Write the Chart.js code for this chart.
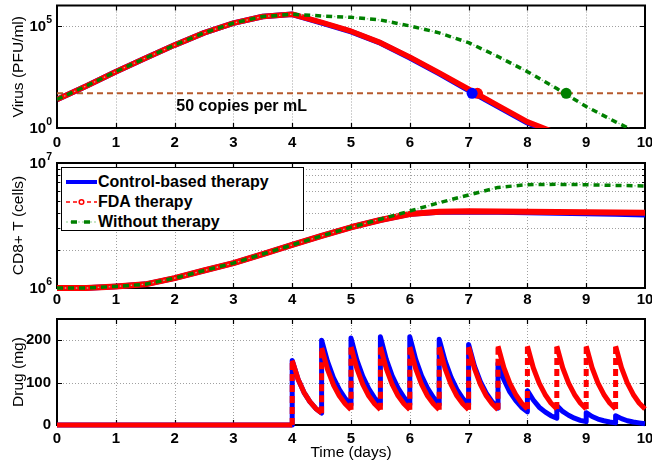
<!DOCTYPE html>
<html>
<head>
<meta charset="utf-8">
<script src="https://cdn.jsdelivr.net/npm/chart.js@4.4.1/dist/chart.umd.min.js"></script>
<style>
html,body{margin:0;padding:0;background:#fff;width:652px;height:465px;overflow:hidden;}
.panel{position:absolute;left:0;width:652px;}
#legend{position:absolute;left:61px;top:167px;width:241px;height:62px;border:1px solid #000;background:#fff;
  font:bold 16px 'Liberation Sans',Arial,Helvetica,sans-serif;color:#000;z-index:5;}
#legend .row{position:absolute;left:0;height:20px;width:240px;}
#legend svg{position:absolute;left:4px;top:0;}
#legend span{position:absolute;left:36px;top:1px;line-height:18px;white-space:nowrap;}
</style>
</head>
<body>
<div class="panel" style="top:0;height:150px"><canvas id="cVirus" width="652" height="150"></canvas></div>
<div class="panel" style="top:150px;height:160px"><canvas id="cCd8" width="652" height="160"></canvas></div>
<div class="panel" style="top:310px;height:155px"><canvas id="cDrug" width="652" height="155"></canvas></div>
<div id="legend">
  <div class="row" style="top:4px">
    <svg width="31" height="20"><line x1="0" y1="10" x2="31" y2="10" stroke="#0000ff" stroke-width="4"/></svg>
    <span>Control-based therapy</span>
  </div>
  <div class="row" style="top:24px">
    <svg width="31" height="20"><line x1="0" y1="10" x2="31" y2="10" stroke="#ff0000" stroke-width="1.5" stroke-dasharray="4,3"/><circle cx="15.5" cy="10" r="2.3" fill="#fff" stroke="#ff0000" stroke-width="1.5"/></svg>
    <span>FDA therapy</span>
  </div>
  <div class="row" style="top:44px">
    <svg width="31" height="20"><line x1="0" y1="10" x2="31" y2="10" stroke="#8fd08f" stroke-width="1.2" stroke-dasharray="2,2"/><line x1="0" y1="10" x2="31" y2="10" stroke="#008000" stroke-width="3.5" stroke-dasharray="0,5,6,2"/></svg>
    <span>Without therapy</span>
  </div>
</div>
<script>
// ---------------- data ----------------
const dayTicks = [0,1,2,3,4,5,6,7,8,9,10];
const dayGrid  = [1,2,3,4,5,6,7,8,9];

// Virus (PFU/ml), log scale
const virusTime      = [0,0.5,1,1.5,2,2.5,3,3.5,4,4.5,5,5.5,6,6.5,7,7.5,8,8.5,9,9.5,10];
const controlVirus   = [25,115,575,2630,11500,45700,138000,288000,372000,141000,52500,14500,2750,457,69,11.2,1.8,0.5,null,null,null];
const fdaVirus       = [25,115,575,2630,11500,45700,138000,288000,372000,148000,55000,15100,2950,500,79,12.6,2.0,0.55,null,null,null];
const noTherapyVirus = [25,115,575,2630,11500,45700,138000,288000,372000,309000,263000,195000,100000,45700,15100,3160,575,85,11.2,2.0,0.4];
const thresholdValue = 50;
const thresholdLabel = '50 copies per mL';
const crossTimes = {control: 7.06, fda: 7.15, none: 8.66};
const virusTicks = [1, 1e5];
const virusTickExp = ['0', '5'];

// CD8+ T cells, log scale
const cd8Time      = [0,0.5,1,1.5,2,2.5,3,3.5,4,4.5,5,5.5,6,6.5,7,7.5,8,8.5,9,9.5,10];
const controlCd8   = [1.0e6,1.0e6,1.03e6,1.07e6,1.2e6,1.38e6,1.58e6,1.87e6,2.21e6,2.61e6,3.06e6,3.5e6,3.9e6,4.05e6,4.08e6,4.05e6,4.02e6,3.98e6,3.94e6,3.9e6,3.86e6];
const fdaCd8       = [1.0e6,1.0e6,1.03e6,1.07e6,1.2e6,1.38e6,1.58e6,1.87e6,2.21e6,2.61e6,3.06e6,3.5e6,3.91e6,4.07e6,4.11e6,4.1e6,4.08e6,4.06e6,4.04e6,4.02e6,4.0e6];
const noTherapyCd8 = [1.0e6,1.0e6,1.03e6,1.07e6,1.2e6,1.38e6,1.58e6,1.87e6,2.21e6,2.61e6,3.06e6,3.55e6,4.13e6,4.81e6,5.55e6,6.38e6,6.71e6,6.75e6,6.7e6,6.62e6,6.55e6];
const cd8Ticks = [1e6, 1e7];
const cd8TickExp = ['6', '7'];
const cd8Minor = [2e6,3e6,4e6,5e6,6e6,7e6,8e6,9e6];

// Drug (mg)
const drugTime = [0,4,
 4,4.1,4.2,4.3,4.4,4.5,
 4.5,4.6,4.7,4.8,4.9,5,
 5,5.1,5.2,5.3,5.4,5.5,
 5.5,5.6,5.7,5.8,5.9,6,
 6,6.1,6.2,6.3,6.4,6.5,
 6.5,6.6,6.7,6.8,6.9,7,
 7,7.1,7.2,7.3,7.4,7.5,
 7.5,7.6,7.7,7.8,7.9,8,
 8,8.1,8.2,8.3,8.4,8.5,
 8.5,8.6,8.7,8.8,8.9,9,
 9,9.1,9.2,9.3,9.4,9.5,
 9.5,9.6,9.7,9.8,9.9,10];
const fdaDrug = [0,0,
 152,108,77,55,39,28,
 182,131,95,69,50,36,
 184,133,96,69,50,36,
 184,133,96,69,50,36,
 184,133,96,69,50,36,
 184,133,96,69,50,36,
 184,133,96,69,50,36,
 186,135,99,72,52,38,
 186,135,99,72,52,38,
 186,135,99,72,52,38,
 186,135,99,72,52,38,
 186,135,99,72,52,38];
const controlDrug = [0,0,
 152,108,77,55,39,28,
 200,150,112,84,63,47,
 205,153,115,86,64,48,
 208,155,116,87,65,48,
 208,155,116,87,65,48,
 202,151,113,84,63,47,
 190,139,102,75,55,40,
 145,107,78,58,42,31,
 81,59,42,31,22,16,
 46,32,23,16,11,8,
 29,20,14,10,7,5,
 22,15,10,7,5,3];
const drugTicks = [0, 100, 200];

// ---------------- styling ----------------
const FONT = "'Liberation Sans', Arial, Helvetica, sans-serif";
Chart.defaults.font.family = FONT;
Chart.defaults.color = '#000';
const BLUE = '#0000ff', RED = '#ff0000', GREEN = '#008000', LIGHTGREEN = '#8fd08f', BROWN = '#b65a2c';

function pts(xs, ys) { return xs.map((x, i) => ({x, y: ys[i]})); }

const framePlugin = {
  id: 'frame',
  beforeDatasetsDraw(chart, args, o) {
    const {ctx, chartArea: a} = chart;
    const xs = chart.scales.x, ys = chart.scales.y;
    ctx.save();
    // dotted grid
    ctx.strokeStyle = '#a0a0a0';
    ctx.lineWidth = 1;
    ctx.setLineDash([1, 2]);
    ctx.beginPath();
    (o.xGrid || []).forEach(v => { const p = Math.round(xs.getPixelForValue(v)) + 0.5; ctx.moveTo(p, a.top); ctx.lineTo(p, a.bottom); });
    (o.yGrid || []).forEach(v => { const p = Math.round(ys.getPixelForValue(v)) + 0.5; ctx.moveTo(a.left, p); ctx.lineTo(a.right, p); });
    ctx.stroke();
    ctx.setLineDash([]);
    // inward tick marks
    ctx.strokeStyle = '#000';
    ctx.lineWidth = 1.2;
    ctx.beginPath();
    (o.xTicks || []).forEach(v => { const p = Math.round(xs.getPixelForValue(v)) + 0.5;
      ctx.moveTo(p, a.bottom); ctx.lineTo(p, a.bottom - 5); ctx.moveTo(p, a.top); ctx.lineTo(p, a.top + 5); });
    (o.yTicks || []).forEach(v => { const p = Math.round(ys.getPixelForValue(v)) + 0.5;
      ctx.moveTo(a.left, p); ctx.lineTo(a.left + 5, p); ctx.moveTo(a.right, p); ctx.lineTo(a.right - 5, p); });
    (o.yMinor || []).forEach(v => { const p = Math.round(ys.getPixelForValue(v)) + 0.5;
      ctx.moveTo(a.left, p); ctx.lineTo(a.left + 3, p); ctx.moveTo(a.right, p); ctx.lineTo(a.right - 3, p); });
    ctx.stroke();
    // frame
    ctx.lineWidth = 2;
    ctx.strokeRect(a.left, a.top, a.right - a.left, a.bottom - a.top);
    // power-of-ten labels
    if (o.expValues) {
      ctx.fillStyle = '#000';
      ctx.textAlign = 'left';
      ctx.textBaseline = 'alphabetic';
      o.expValues.forEach((v, i) => {
        const py = ys.getPixelForValue(v);
        const e = o.expTexts[i];
        ctx.font = 'bold 10.5px ' + FONT;
        const we = ctx.measureText(e).width;
        ctx.font = 'bold 15px ' + FONT;
        const wb = ctx.measureText('10').width;
        const xr = a.left - 5;
        ctx.fillText('10', xr - we - wb, py + 5.4);
        ctx.font = 'bold 10.5px ' + FONT;
        ctx.fillText(e, xr - we, py - 3.4);
      });
    }
    // annotation text
    if (o.note) {
      ctx.font = 'bold 16px ' + FONT;
      ctx.textAlign = 'center';
      ctx.textBaseline = 'alphabetic';
      ctx.fillText(o.note.text, xs.getPixelForValue(o.note.x), ys.getPixelForValue(o.note.y) + o.note.dy);
    }
    ctx.restore();
  }
};
Chart.register(framePlugin);

function options({padTop, xHeight, xPad, yScale, yTitle, xTitle, frame}) {
  return {
    responsive: false, animation: false, events: [],
    layout: {padding: {top: padTop, right: 7, left: 0, bottom: 0}},
    plugins: {legend: {display: false}, tooltip: {enabled: false}, frame},
    scales: {
      x: {
        type: 'linear', min: 0, max: 10,
        ticks: {stepSize: 1, font: {weight: 'bold', size: 15}, padding: xPad, color: '#000', autoSkip: false, maxRotation: 0},
        grid: {display: false, drawTicks: false}, border: {display: false},
        title: xTitle ? {display: true, text: xTitle, font: {size: 15.5}, padding: {top: 0, bottom: 2.5}, color: '#000'} : {display: false},
        afterFit: s => { s.height = xHeight; s.paddingLeft = 0; s.paddingRight = 0; }
      },
      y: Object.assign({
        grid: {display: false, drawTicks: false}, border: {display: false},
        title: {display: true, text: yTitle, font: {size: 15.5}, padding: {top: 9.5, bottom: 0}, color: '#000'},
        afterFit: s => { s.width = 57; s.paddingTop = 0; s.paddingBottom = 0; }
      }, yScale)
    }
  };
}

function lineDs(data, color, width, order, extra) {
  return Object.assign({data, borderColor: color, backgroundColor: color, borderWidth: width, pointRadius: 0,
    fill: false, tension: 0, order, borderJoinStyle: 'round', spanGaps: false}, extra || {});
}
function dotDs(x, y, color, order) {
  return {type: 'scatter', data: [{x, y}], pointRadius: 5.5, pointBackgroundColor: color, pointBorderColor: color,
    pointBorderWidth: 0, showLine: false, order};
}

// ---------------- Virus chart ----------------
new Chart(document.getElementById('cVirus'), {
  type: 'line',
  data: {datasets: [
    dotDs(crossTimes.control, thresholdValue, BLUE, 0),
    dotDs(crossTimes.fda, thresholdValue, RED, 1),
    dotDs(crossTimes.none, thresholdValue, GREEN, 1),
    lineDs(pts(virusTime, noTherapyVirus), GREEN, 3.5, 2, {borderDash: [6, 5]}),
    lineDs(pts(virusTime, noTherapyVirus), LIGHTGREEN, 1.3, 3, {borderDash: [1.5, 9.5], borderDashOffset: 3.25}),
    lineDs(pts(virusTime, fdaVirus), RED, 5.5, 4),
    lineDs(pts(virusTime, controlVirus), BLUE, 5.5, 5),
    lineDs(pts([0, 10], [thresholdValue, thresholdValue]), BROWN, 2, 6, {borderDash: [6, 4]})
  ]},
  options: options({
    padTop: 2, xHeight: 22, xPad: 6, yTitle: 'Virus (PFU/ml)',
    yScale: {type: 'logarithmic', min: 1, max: 1e6, ticks: {display: false}},
    frame: {xGrid: dayGrid, yGrid: [1e5], xTicks: dayGrid, yTicks: [1e5],
      expValues: virusTicks, expTexts: virusTickExp,
      note: {text: thresholdLabel, x: 3.14, y: thresholdValue, dy: 17.3}}
  })
});

// ---------------- CD8 chart ----------------
new Chart(document.getElementById('cCd8'), {
  type: 'line',
  data: {datasets: [
    lineDs(pts(cd8Time, noTherapyCd8), GREEN, 3.5, 2, {borderDash: [6, 5], clip: 4}),
    lineDs(pts(cd8Time, noTherapyCd8), LIGHTGREEN, 1.3, 3, {borderDash: [1.5, 9.5], borderDashOffset: 3.25, clip: 4}),
    lineDs(pts(cd8Time, fdaCd8), RED, 6, 4, {clip: 4}),
    lineDs(pts(cd8Time, controlCd8), BLUE, 5.5, 5, {clip: 4})
  ]},
  options: options({
    padTop: 13, xHeight: 22, xPad: 3, yTitle: 'CD8+ T (cells)',
    yScale: {type: 'logarithmic', min: 1e6, max: 1e7, ticks: {display: false}},
    frame: {xGrid: dayGrid, yGrid: cd8Minor, xTicks: dayGrid, yTicks: [], yMinor: cd8Minor,
      expValues: cd8Ticks, expTexts: cd8TickExp}
  })
});

// ---------------- Drug chart ----------------
const jumpDash = c => (c.p0.parsed.x === c.p1.parsed.x ? [7, 4] : []);
new Chart(document.getElementById('cDrug'), {
  type: 'line',
  data: {datasets: [
    lineDs(pts(drugTime, fdaDrug), RED, 5, 1, {clip: 5, segment: {borderDash: jumpDash}}),
    lineDs(pts(drugTime, controlDrug), BLUE, 5, 2, {clip: 5})
  ]},
  options: options({
    padTop: 9, xHeight: 40, xPad: 5, yTitle: 'Drug (mg)', xTitle: 'Time (days)',
    yScale: {type: 'linear', min: 0, max: 250,
      ticks: {font: {weight: 'bold', size: 15}, padding: 6, color: '#000'},
      afterBuildTicks: s => { s.ticks = drugTicks.map(v => ({value: v})); }},
    frame: {xGrid: dayGrid, yGrid: [100, 200], xTicks: dayGrid, yTicks: [100, 200]}
  })
});
</script>
</body>
</html>
